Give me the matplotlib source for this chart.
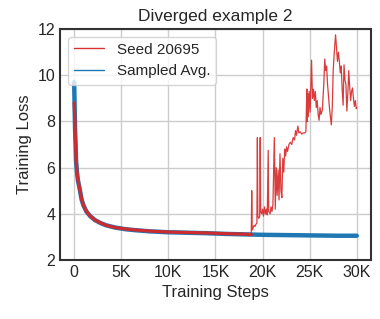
import matplotlib
matplotlib.use("Agg")
import matplotlib.pyplot as plt
from matplotlib.ticker import FuncFormatter
import seaborn as sns

# steps in thousands
avg_steps = [0, 0.05, 0.1, 0.15, 0.2, 0.3, 0.4, 0.55, 0.8, 1.0, 1.3, 1.7, 2.2, 2.8, 3.4,
             4.4, 5.5, 6.5, 8, 10, 12, 14, 16, 18, 20, 22, 24, 26, 28, 30]
avg_loss = [9.7, 8.6, 7.6, 7.0, 6.3, 5.8, 5.45, 5.15, 4.6, 4.35, 4.1, 3.9, 3.73, 3.6, 3.5,
            3.4, 3.33, 3.29, 3.24, 3.2, 3.18, 3.16, 3.13, 3.11, 3.09, 3.08, 3.07, 3.06, 3.05, 3.05]

seed_pre_steps = [0, 0.05, 0.1, 0.15, 0.2, 0.3, 0.4, 0.55, 0.8, 1.0, 1.3, 1.7, 2.2, 2.8, 3.4,
                  4.4, 5.5, 6.5, 8, 10, 12, 14, 16, 18, 18.8]
seed_pre_loss = [8.8, 8.3, 7.6, 7.0, 6.3, 5.8, 5.45, 5.15, 4.6, 4.35, 4.1, 3.9, 3.73, 3.6, 3.5,
                 3.4, 3.34, 3.3, 3.25, 3.21, 3.19, 3.17, 3.14, 3.12, 3.1]

seed_div_steps = [18.8, 18.85, 18.9, 19.0, 19.1, 19.2, 19.3, 19.4, 19.45, 19.5, 19.6, 19.7,
                  19.75, 19.8, 19.9, 20.0, 20.1, 20.2, 20.3, 20.4, 20.5, 20.6, 20.65, 20.8,
                  20.9, 21.0, 21.1, 21.25, 21.35, 21.45, 21.55, 21.65, 21.75, 21.85, 21.95,
                  22.05, 22.15, 22.25, 22.35, 22.45, 22.55, 22.65, 22.8, 22.95, 23.1, 23.25,
                  23.4, 23.5, 23.6, 23.75, 23.85, 24.0, 24.15, 24.3, 24.45, 24.6, 24.7, 24.75,
                  24.8, 24.85, 24.95, 25.05, 25.2, 25.3, 25.4, 25.5, 25.6, 25.7, 25.8, 25.9,
                  26.0, 26.1, 26.2, 26.35, 26.5, 26.6, 26.7, 26.8, 26.9, 27.0, 27.1, 27.2,
                  27.3, 27.4, 27.5, 27.6, 27.75, 27.85, 27.95, 28.05, 28.15, 28.25, 28.35,
                  28.45, 28.55, 28.65, 28.75, 28.85, 28.95, 29.05, 29.15, 29.25, 29.35, 29.45,
                  29.55, 29.65, 29.75, 29.85, 29.95, 30.0]
seed_div_loss = [3.1, 5.0, 3.3, 3.4, 3.5, 3.45, 3.55, 3.6, 7.3, 3.9, 3.8, 3.9,
                 7.3, 4.1, 4.0, 4.2, 3.9, 4.3, 4.0, 4.2, 3.95, 6.75, 4.1, 4.0,
                 4.3, 4.1, 4.4, 7.3, 4.2, 6.0, 4.8, 5.9, 4.6, 6.6, 5.0,
                 4.7, 6.4, 5.8, 6.8, 6.5, 6.9, 6.7, 7.0, 7.1, 7.0, 7.3,
                 7.2, 7.6, 7.4, 7.8, 7.5, 7.55, 7.45, 7.5, 7.5, 7.55, 9.4, 8.0,
                 9.2, 8.2, 9.3, 8.4, 10.65, 9.0, 9.4, 8.9, 9.3, 8.6, 8.9, 8.3,
                 8.05, 8.6, 8.3, 8.5, 9.6, 10.7, 10.2, 10.4, 9.6, 9.1, 8.6, 8.2,
                 7.85, 8.6, 10.2, 10.9, 11.75, 11.2, 10.6, 11.0, 10.6, 10.1, 10.4,
                 9.4, 8.7, 10.45, 9.8, 9.6, 8.45, 9.2, 10.2, 9.5, 8.9, 9.3,
                 9.45, 9.0, 8.65, 8.9, 8.55, 8.6]

sns.set_theme(style="white")
plt.rcParams['font.family'] = ['Liberation Sans', 'DejaVu Sans']

fig, ax = plt.subplots(figsize=(3.8, 3.19), dpi=100)
fig.subplots_adjust(left=0.158, right=0.976, bottom=0.185, top=0.909)

ax.plot(avg_steps, avg_loss, color='#1f77b4', lw=3.2, label='Sampled Avg.', zorder=2)
ax.plot(seed_pre_steps, seed_pre_loss, color='#d62728', lw=2.3, alpha=0.95, zorder=3,
        label='Seed 20695')
ax.plot(seed_div_steps, seed_div_loss, color='#d62728', lw=0.9, alpha=0.9, zorder=3)

ax.set_ylim(2, 12)
ax.set_yticks([2, 4, 6, 8, 10, 12])
ax.set_xticks([0, 5, 10, 15, 20, 25, 30])
ax.xaxis.set_major_formatter(FuncFormatter(lambda x, p: '0' if x == 0 else f'{int(x)}K'))
ax.grid(True, color='#cccccc', lw=1)
for s in ax.spines.values():
    s.set_color('#333333')
    s.set_linewidth(1.5)

ax.set_title('Diverged example 2', fontsize=12.5)
ax.set_xlabel('Training Steps', fontsize=12)
ax.set_ylabel('Training Loss', fontsize=12)
ax.tick_params(labelsize=11.5, length=0)

handles, labels = ax.get_legend_handles_labels()
leg = ax.legend([handles[1], handles[0]], [labels[1], labels[0]], loc='upper left',
                fontsize=11, borderaxespad=0.5)
for ln in leg.get_lines():
    ln.set_linewidth(1.0)

fig.savefig('out.png', dpi=100)
